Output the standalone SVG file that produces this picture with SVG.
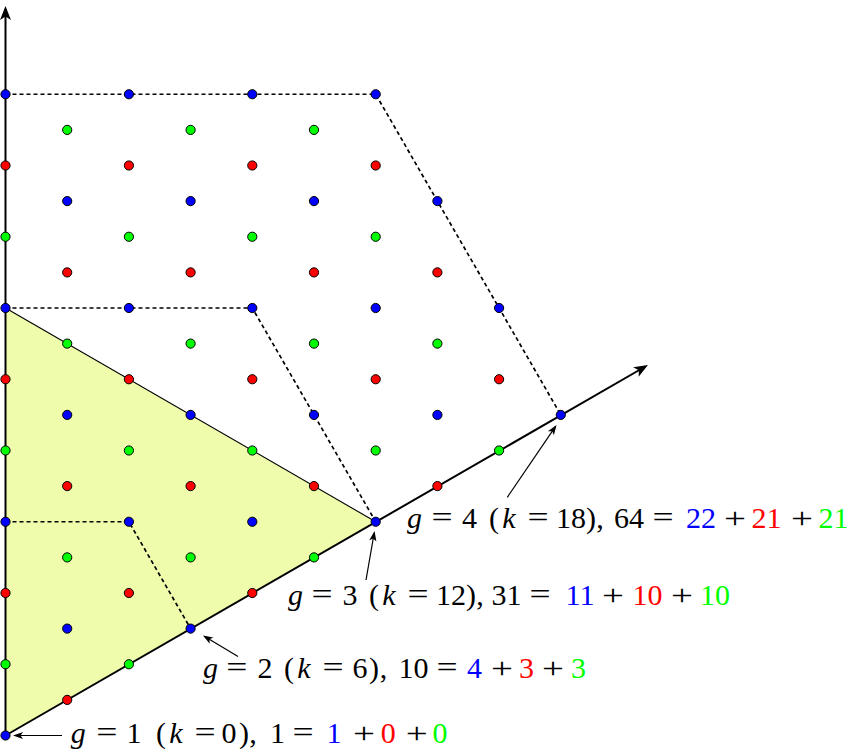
<svg xmlns="http://www.w3.org/2000/svg" width="847" height="749" viewBox="0 0 847 749">
<defs>
<marker id="ax" markerUnits="userSpaceOnUse" viewBox="-12 -7 16 14" refX="0" refY="0" markerWidth="16" markerHeight="14" orient="auto">
<path d="M3,0 L-11,-5.5 L-7.5,0 L-11,5.5 Z" fill="#000"/>
</marker>
<marker id="ar" markerUnits="userSpaceOnUse" viewBox="-9 -5 12 10" refX="0" refY="0" markerWidth="12" markerHeight="10" orient="auto">
<path d="M2,0 L-8,-3.6 L-5.5,0 L-8,3.6 Z" fill="#000"/>
</marker>
</defs>

<polygon id="triangle" points="5.5,735.5 5.5,308 375.7,521.75" fill="#effcac"/>
<line x1="5.5" y1="308" x2="375.7" y2="521.75" stroke="#000" stroke-width="1.1"/>

<g id="connectors" fill="none" stroke="#000">
<g stroke-width="1.7" stroke-dasharray="4 3">
<polyline points="5.5,521.75 128.9,521.75 190.6,628.6"/>
<polyline points="5.5,308 252.3,308 375.7,521.75"/>
<polyline points="5.5,94.25 375.7,94.25 560.8,414.9"/>
</g>
<g stroke-width="2">
<line x1="5.5" y1="735.5" x2="5.5" y2="9" marker-end="url(#ax)"/>
<line x1="5.5" y1="735.5" x2="645.4" y2="366.5" marker-end="url(#ax)"/>
</g>
<g stroke-width="1.2">
<line x1="62" y1="735.5" x2="15" y2="735.5" marker-end="url(#ar)"/>
<line x1="238" y1="656.5" x2="204.7" y2="636.5" marker-end="url(#ar)"/>
<line x1="366" y1="580" x2="374.2" y2="533" marker-end="url(#ar)"/>
<line x1="507.3" y1="497.3" x2="555.4" y2="426.7" marker-end="url(#ar)"/>
</g>
</g>

<g id="lattice" stroke="#000" stroke-width="1">
<g id="col0">
<circle id="p0_0" fill="#0000ff" cx="5.5" cy="735.5" r="4.6"/>
<circle id="p1_0" fill="#00ff00" cx="5.5" cy="664.25" r="4.6"/>
<circle id="p2_0" fill="#ff0000" cx="5.5" cy="593" r="4.6"/>
<circle id="p3_0" fill="#0000ff" cx="5.5" cy="521.75" r="4.6"/>
<circle id="p4_0" fill="#00ff00" cx="5.5" cy="450.5" r="4.6"/>
<circle id="p5_0" fill="#ff0000" cx="5.5" cy="379.25" r="4.6"/>
<circle id="p6_0" fill="#0000ff" cx="5.5" cy="308" r="4.6"/>
<circle id="p7_0" fill="#00ff00" cx="5.5" cy="236.75" r="4.6"/>
<circle id="p8_0" fill="#ff0000" cx="5.5" cy="165.5" r="4.6"/>
<circle id="p9_0" fill="#0000ff" cx="5.5" cy="94.25" r="4.6"/>
</g>
<g id="col1">
<circle id="p0_1" fill="#ff0000" cx="67.2" cy="699.9" r="4.6"/>
<circle id="p1_1" fill="#0000ff" cx="67.2" cy="628.6" r="4.6"/>
<circle id="p2_1" fill="#00ff00" cx="67.2" cy="557.4" r="4.6"/>
<circle id="p3_1" fill="#ff0000" cx="67.2" cy="486.1" r="4.6"/>
<circle id="p4_1" fill="#0000ff" cx="67.2" cy="414.9" r="4.6"/>
<circle id="p5_1" fill="#00ff00" cx="67.2" cy="343.6" r="4.6"/>
<circle id="p6_1" fill="#ff0000" cx="67.2" cy="272.4" r="4.6"/>
<circle id="p7_1" fill="#0000ff" cx="67.2" cy="201.1" r="4.6"/>
<circle id="p8_1" fill="#00ff00" cx="67.2" cy="129.9" r="4.6"/>
</g>
<g id="col2">
<circle id="p0_2" fill="#00ff00" cx="128.9" cy="664.25" r="4.6"/>
<circle id="p1_2" fill="#ff0000" cx="128.9" cy="593" r="4.6"/>
<circle id="p2_2" fill="#0000ff" cx="128.9" cy="521.75" r="4.6"/>
<circle id="p3_2" fill="#00ff00" cx="128.9" cy="450.5" r="4.6"/>
<circle id="p4_2" fill="#ff0000" cx="128.9" cy="379.25" r="4.6"/>
<circle id="p5_2" fill="#0000ff" cx="128.9" cy="308" r="4.6"/>
<circle id="p6_2" fill="#00ff00" cx="128.9" cy="236.75" r="4.6"/>
<circle id="p7_2" fill="#ff0000" cx="128.9" cy="165.5" r="4.6"/>
<circle id="p8_2" fill="#0000ff" cx="128.9" cy="94.25" r="4.6"/>
</g>
<g id="col3">
<circle id="p0_3" fill="#0000ff" cx="190.6" cy="628.6" r="4.6"/>
<circle id="p1_3" fill="#00ff00" cx="190.6" cy="557.4" r="4.6"/>
<circle id="p2_3" fill="#ff0000" cx="190.6" cy="486.1" r="4.6"/>
<circle id="p3_3" fill="#0000ff" cx="190.6" cy="414.9" r="4.6"/>
<circle id="p4_3" fill="#00ff00" cx="190.6" cy="343.6" r="4.6"/>
<circle id="p5_3" fill="#ff0000" cx="190.6" cy="272.4" r="4.6"/>
<circle id="p6_3" fill="#0000ff" cx="190.6" cy="201.1" r="4.6"/>
<circle id="p7_3" fill="#00ff00" cx="190.6" cy="129.9" r="4.6"/>
</g>
<g id="col4">
<circle id="p0_4" fill="#ff0000" cx="252.3" cy="593" r="4.6"/>
<circle id="p1_4" fill="#0000ff" cx="252.3" cy="521.75" r="4.6"/>
<circle id="p2_4" fill="#00ff00" cx="252.3" cy="450.5" r="4.6"/>
<circle id="p3_4" fill="#ff0000" cx="252.3" cy="379.25" r="4.6"/>
<circle id="p4_4" fill="#0000ff" cx="252.3" cy="308" r="4.6"/>
<circle id="p5_4" fill="#00ff00" cx="252.3" cy="236.75" r="4.6"/>
<circle id="p6_4" fill="#ff0000" cx="252.3" cy="165.5" r="4.6"/>
<circle id="p7_4" fill="#0000ff" cx="252.3" cy="94.25" r="4.6"/>
</g>
<g id="col5">
<circle id="p0_5" fill="#00ff00" cx="314" cy="557.4" r="4.6"/>
<circle id="p1_5" fill="#ff0000" cx="314" cy="486.1" r="4.6"/>
<circle id="p2_5" fill="#0000ff" cx="314" cy="414.9" r="4.6"/>
<circle id="p3_5" fill="#00ff00" cx="314" cy="343.6" r="4.6"/>
<circle id="p4_5" fill="#ff0000" cx="314" cy="272.4" r="4.6"/>
<circle id="p5_5" fill="#0000ff" cx="314" cy="201.1" r="4.6"/>
<circle id="p6_5" fill="#00ff00" cx="314" cy="129.9" r="4.6"/>
</g>
<g id="col6">
<circle id="p0_6" fill="#0000ff" cx="375.7" cy="521.75" r="4.6"/>
<circle id="p1_6" fill="#00ff00" cx="375.7" cy="450.5" r="4.6"/>
<circle id="p2_6" fill="#ff0000" cx="375.7" cy="379.25" r="4.6"/>
<circle id="p3_6" fill="#0000ff" cx="375.7" cy="308" r="4.6"/>
<circle id="p4_6" fill="#00ff00" cx="375.7" cy="236.75" r="4.6"/>
<circle id="p5_6" fill="#ff0000" cx="375.7" cy="165.5" r="4.6"/>
<circle id="p6_6" fill="#0000ff" cx="375.7" cy="94.25" r="4.6"/>
</g>
<g id="col7">
<circle id="p0_7" fill="#ff0000" cx="437.4" cy="486.1" r="4.6"/>
<circle id="p1_7" fill="#0000ff" cx="437.4" cy="414.9" r="4.6"/>
<circle id="p2_7" fill="#00ff00" cx="437.4" cy="343.6" r="4.6"/>
<circle id="p3_7" fill="#ff0000" cx="437.4" cy="272.4" r="4.6"/>
<circle id="p4_7" fill="#0000ff" cx="437.4" cy="201.1" r="4.6"/>
</g>
<g id="col8">
<circle id="p0_8" fill="#00ff00" cx="499.1" cy="450.5" r="4.6"/>
<circle id="p1_8" fill="#ff0000" cx="499.1" cy="379.25" r="4.6"/>
<circle id="p2_8" fill="#0000ff" cx="499.1" cy="308" r="4.6"/>
</g>
<g id="col9">
<circle id="p0_9" fill="#0000ff" cx="560.8" cy="414.9" r="4.6"/>
</g>
</g>

<g font-family="Liberation Serif, Times New Roman, serif" font-size="30" text-anchor="middle" fill="#000">
<g id="label-g1">
<text y="743"><tspan font-style="italic" x="78.3">g</tspan><tspan x="134">1</tspan><tspan x="161">(</tspan><tspan font-style="italic" x="176">k</tspan><tspan x="229">0</tspan><tspan x="244">)</tspan><tspan x="253">,</tspan><tspan x="277.5">1</tspan><tspan fill="#0000ff" x="334">1</tspan><tspan fill="#ff0000" x="388.3">0</tspan><tspan fill="#00ff00" x="440">0</tspan></text>
<text transform="translate(106.7,742) scale(1.25,1)">=</text>
<text transform="translate(205,742) scale(1.25,1)">=</text>
<text transform="translate(303,742) scale(1.25,1)">=</text>
<text transform="translate(364,743) scale(1.3,1)">+</text>
<text transform="translate(416.7,743) scale(1.3,1)">+</text>
</g>
<g id="label-g2">
<text y="678"><tspan font-style="italic" x="210.5">g</tspan><tspan x="265">2</tspan><tspan x="289">(</tspan><tspan font-style="italic" x="304">k</tspan><tspan x="360">6</tspan><tspan x="374">)</tspan><tspan x="383.5">,</tspan><tspan x="413.5">10</tspan><tspan fill="#0000ff" x="474.5">4</tspan><tspan fill="#ff0000" x="526.5">3</tspan><tspan fill="#00ff00" x="578.5">3</tspan></text>
<text transform="translate(236.7,677) scale(1.25,1)">=</text>
<text transform="translate(333,677) scale(1.25,1)">=</text>
<text transform="translate(447,677) scale(1.25,1)">=</text>
<text transform="translate(502,678) scale(1.3,1)">+</text>
<text transform="translate(553,678) scale(1.3,1)">+</text>
</g>
<g id="label-g3">
<text y="605"><tspan font-style="italic" x="295.5">g</tspan><tspan x="350">3</tspan><tspan x="374">(</tspan><tspan font-style="italic" x="389">k</tspan><tspan x="451">12</tspan><tspan x="471">)</tspan><tspan x="480">,</tspan><tspan x="506.5">31</tspan><tspan fill="#0000ff" x="580">11</tspan><tspan fill="#ff0000" x="647.5">10</tspan><tspan fill="#00ff00" x="715">10</tspan></text>
<text transform="translate(322,604) scale(1.25,1)">=</text>
<text transform="translate(418,604) scale(1.25,1)">=</text>
<text transform="translate(540,604) scale(1.25,1)">=</text>
<text transform="translate(613,605) scale(1.3,1)">+</text>
<text transform="translate(682,605) scale(1.3,1)">+</text>
</g>
<g id="label-g4">
<text y="528"><tspan font-style="italic" x="414.5">g</tspan><tspan x="469.5">4</tspan><tspan x="494">(</tspan><tspan font-style="italic" x="509">k</tspan><tspan x="571">18</tspan><tspan x="591">)</tspan><tspan x="600">,</tspan><tspan x="629">64</tspan><tspan fill="#0000ff" x="701">22</tspan><tspan fill="#ff0000" x="766.5">21</tspan><tspan fill="#00ff00" x="833.5">21</tspan></text>
<text transform="translate(442,527) scale(1.25,1)">=</text>
<text transform="translate(538,527) scale(1.25,1)">=</text>
<text transform="translate(663,527) scale(1.25,1)">=</text>
<text transform="translate(735,528) scale(1.3,1)">+</text>
<text transform="translate(802,528) scale(1.3,1)">+</text>
</g>
</g>
</svg>
